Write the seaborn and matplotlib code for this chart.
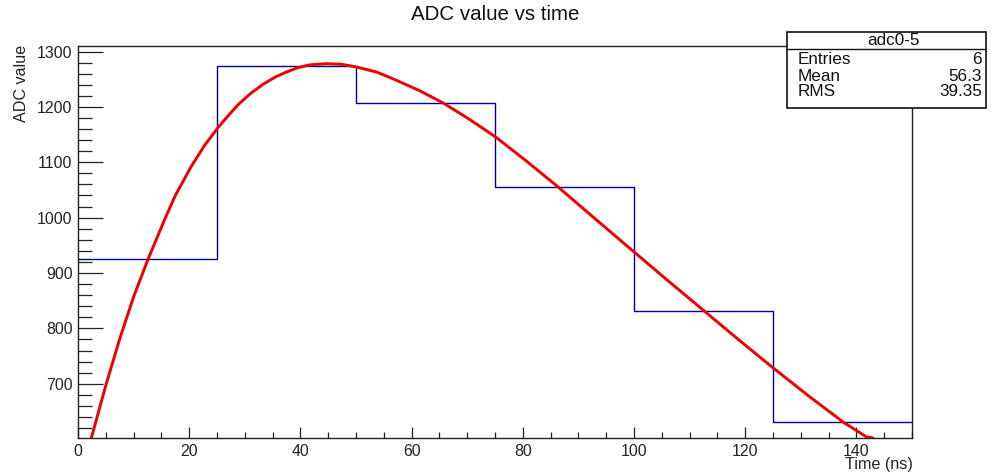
import matplotlib
matplotlib.use("Agg")
import matplotlib.pyplot as plt
from matplotlib.patches import Rectangle
from matplotlib.lines import Line2D
from matplotlib.ticker import MultipleLocator
import seaborn as sns

# Histogram "adc0-5": six 25 ns bins of ADC samples
bin_edges = [0, 25, 50, 75, 100, 125, 150]
bin_centers = [12.5, 37.5, 62.5, 87.5, 112.5, 137.5]
adc_counts = [925, 1274, 1207, 1055, 831, 631]

# Fitted pulse-shape curve, sampled along time
fit_time = [2.4, 5.0, 7.5, 10.0, 12.6, 15.6, 17.5, 20.4, 22.8, 25.2, 27.0,
            28.8, 31.0, 33.3, 35.5, 37.5, 39.6, 41.7, 44.7, 47.4, 50.1,
            53.7, 57.3, 61.5, 65.7, 70.5, 75.2, 80.8, 86.4, 93.0, 99.9,
            106.0, 112.8, 119.0, 125.1, 131.4, 137.6, 141.8, 143.0]
fit_adc = [602, 697, 781, 857, 925, 997, 1040, 1093, 1131, 1163, 1184,
           1204, 1224, 1241, 1254, 1263, 1271, 1276, 1278, 1277, 1272,
           1263, 1248, 1229, 1207, 1177, 1145, 1101, 1055, 998, 939,
           887, 830, 778, 728, 678, 631, 604, 602]

# Statistics panel contents
stats_title = "adc0-5"
stats_names = ["Entries", "Mean", "RMS"]
stats_values = ["6", "56.3", "39.35"]

x_ticks = [0, 20, 40, 60, 80, 100, 120, 140]
y_ticks = [700, 800, 900, 1000, 1100, 1200, 1300]

sns.set_theme(style="white")
plt.rcParams["font.family"] = ["Liberation Sans", "DejaVu Sans"]

W, H = 997, 473
fig = plt.figure(figsize=(W / 100, H / 100), dpi=100)
ax = fig.add_axes([78 / W, 1 - 438 / H, (912 - 78) / W, (438 - 46) / H])

sns.histplot(x=bin_centers, weights=adc_counts, bins=bin_edges,
             element="step", fill=False, color="#000099", linewidth=1.0, ax=ax)
sns.lineplot(x=fit_time, y=fit_adc, color="#ee0000", linewidth=2.1,
             sort=False, estimator=None, ax=ax)
ax.lines[-1].set_solid_joinstyle("round")

ax.set_xlim(0, 150)
ax.set_ylim(602, 1310)
ax.set_xticks(x_ticks)
ax.set_yticks(y_ticks)
ax.xaxis.set_minor_locator(MultipleLocator(5))
ax.yaxis.set_minor_locator(MultipleLocator(20))
ax.set_xticklabels([str(v) for v in x_ticks])
ax.set_yticklabels([str(v) for v in y_ticks])
ax.set_xlabel("")
ax.set_ylabel("")

for s in ax.spines.values():
    s.set_color("#222222")
    s.set_linewidth(1.0)
    s.set_visible(True)

ax.tick_params(axis="x", which="major", direction="in", length=8, width=0.9,
               color="#222222", labelsize=11.4, labelcolor="#222222", pad=4.5,
               bottom=True, top=False)
ax.tick_params(axis="x", which="minor", direction="in", length=4.3, width=0.9,
               color="#222222", bottom=True, top=False)
ax.tick_params(axis="y", which="major", direction="in", length=18, width=0.9,
               color="#222222", labelsize=11.4, labelcolor="#222222", pad=4,
               left=True, right=False)
ax.tick_params(axis="y", which="minor", direction="in", length=10, width=0.9,
               color="#222222", left=True, right=False)
ax.grid(False)

# Titles and axis labels
fig.text(495 / W, 1 - 15 / H, "ADC value vs time", ha="center", va="center",
         fontsize=14.8, color="#111111")
fig.text(913 / W, 1 - 472 / H, "Time (ns)", ha="right", va="bottom",
         fontsize=11.6, color="#222222")
fig.text(22 / W, 1 - 45 / H, "ADC value", ha="center", va="top",
         rotation=90, fontsize=11.6, color="#222222")

# Statistics box
bx0, bx1 = 787 / W, 986 / W
by0, by1 = 1 - 108 / H, 1 - 32 / H
fig.add_artist(Rectangle((bx0, by0), bx1 - bx0, by1 - by0,
                         transform=fig.transFigure, facecolor="white",
                         edgecolor="#111111", linewidth=1.2, zorder=5))
fig.add_artist(Line2D([bx0, bx1], [1 - 49 / H, 1 - 49 / H],
                      transform=fig.transFigure, color="#111111",
                      linewidth=1.0, zorder=6))
fig.text(893 / W, 1 - 40.5 / H, stats_title, ha="center", va="center",
         fontsize=12.3, color="#111111", zorder=7)
for i, (name, val) in enumerate(zip(stats_names, stats_values)):
    yy = 1 - (60 + 16 * i) / H
    fig.text(798 / W, yy, name, ha="left", va="center", fontsize=12.3,
             color="#111111", zorder=7)
    fig.text(982 / W, yy, val, ha="right", va="center", fontsize=12.3,
             color="#111111", zorder=7)

fig.savefig("out.png", dpi=100, facecolor="white")
